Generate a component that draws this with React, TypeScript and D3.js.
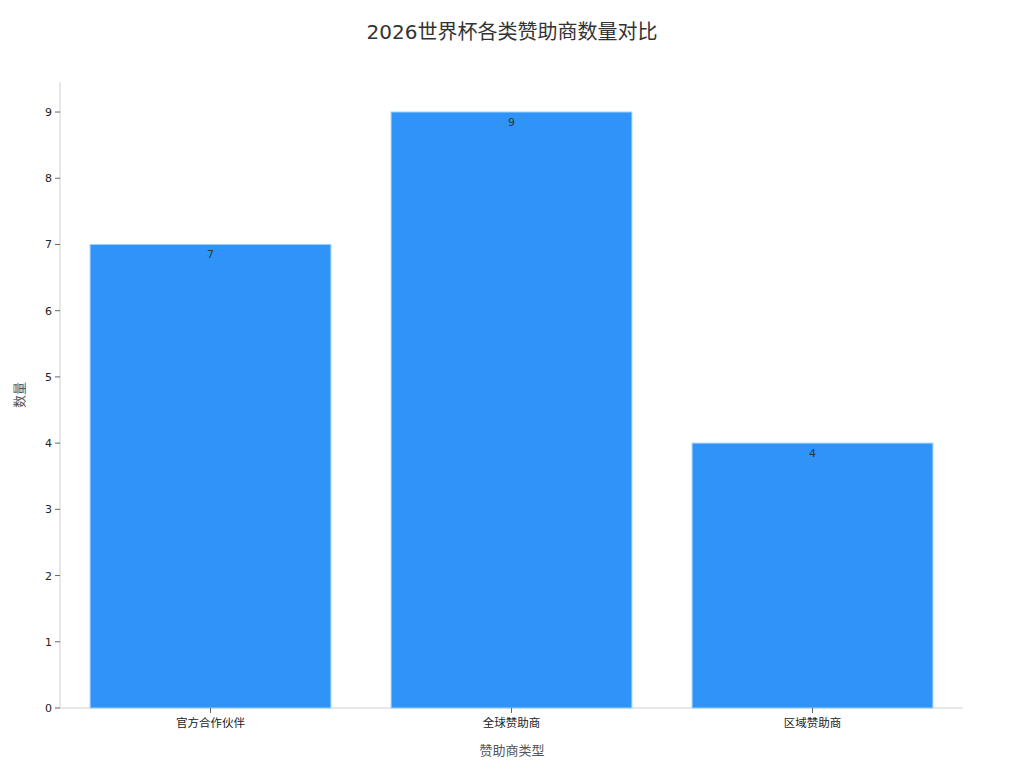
import React from "react";
import * as d3 from "d3";

const categories = ["官方合作伙伴", "全球赞助商", "区域赞助商"];
const counts = [7, 9, 4];
const yTicks = [0, 1, 2, 3, 4, 5, 6, 7, 8, 9];

const W = 1024;
const H = 768;
const FONT = "'DejaVu Sans', 'Noto Sans CJK SC', sans-serif";

export default function App() {
  const left = 60;
  const right = 963;
  const bottom = 708;
  const yMax = 9 * 1.05;
  const y = d3.scaleLinear().domain([0, yMax]).range([bottom, bottom - 66.22 * yMax]);
  const x = d3
    .scaleBand<string>()
    .domain(categories)
    .range([left, right])
    .paddingInner(0.2)
    .paddingOuter(0.1);
  const top = y(yMax);

  return (
    <div style={{ position: "absolute", left: 0, top: 0 }}>
      <svg width={W} height={H} style={{ display: "block", background: "#fff" }} fontFamily={FONT}>
        <text x={512} y={39} textAnchor="middle" fontSize={20} fill="#333">
          2026世界杯各类赞助商数量对比
        </text>
        <line x1={left} x2={left} y1={top} y2={bottom} stroke="#d0d0d0" strokeWidth={1} />
        <line x1={left} x2={right} y1={bottom} y2={bottom} stroke="#d0d0d0" strokeWidth={1} />
        {categories.map((c, i) => (
          <rect
            key={c}
            x={x(c)!}
            y={y(counts[i])}
            width={x.bandwidth()}
            height={bottom - y(counts[i])}
            fill="#2f93f8"
            stroke="#9cd0ff"
            strokeWidth={1}
          />
        ))}
        {categories.map((c, i) => (
          <text
            key={"v" + c}
            x={x(c)! + x.bandwidth() / 2}
            y={y(counts[i]) + 14}
            textAnchor="middle"
            fontSize={11}
            fill="#333"
          >
            {counts[i]}
          </text>
        ))}
        {yTicks.map((t) => (
          <g key={t}>
            <line x1={left - 5} x2={left} y1={y(t)} y2={y(t)} stroke="#666" strokeWidth={1} />
            <text x={left - 8} y={y(t) + 4} textAnchor="end" fontSize={11} fill="#222">
              {t}
            </text>
          </g>
        ))}
        {categories.map((c) => {
          const cx = x(c)! + x.bandwidth() / 2;
          return (
            <g key={"t" + c}>
              <line x1={cx} x2={cx} y1={bottom} y2={bottom + 5} stroke="#666" strokeWidth={1} />
              <text x={cx} y={bottom + 19} textAnchor="middle" fontSize={11.5} fill="#222">
                {c}
              </text>
            </g>
          );
        })}
        <text x={512} y={755} textAnchor="middle" fontSize={13} fill="#555">
          赞助商类型
        </text>
        <text
          transform={`translate(24,${(top + bottom) / 2}) rotate(-90)`}
          textAnchor="middle"
          fontSize={13}
          fill="#555"
        >
          数量
        </text>
      </svg>
    </div>
  );
}
